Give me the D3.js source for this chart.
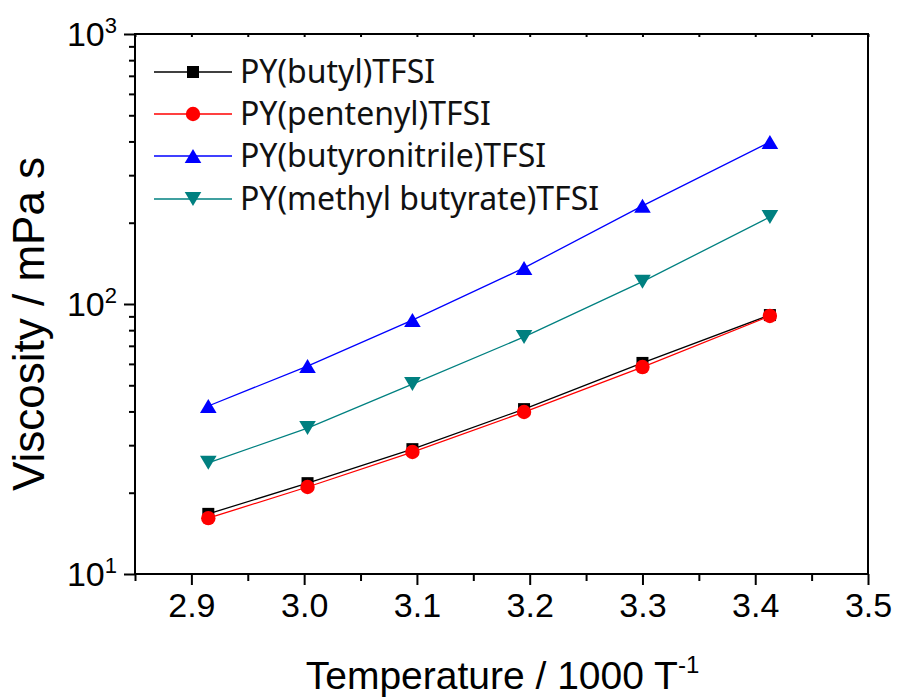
<!DOCTYPE html>
<html>
<head>
<meta charset="utf-8">
<script src="https://cdn.jsdelivr.net/npm/d3@7/dist/d3.min.js"></script>
<style>
  body { margin: 0; background: #fff; }
  svg { font-family: 'Liberation Sans', Arial, sans-serif; }
  .axis path, .axis line { stroke: #000; stroke-width: 2; }
  .legend text { font-family: 'Noto Sans', sans-serif; font-size: 32px; fill: #111; }
</style>
</head>
<body>
<svg id="chart" width="897" height="697"></svg>
<script>
// 1000/T values (K^-1 x 1000)
const invT = [2.915, 3.003, 3.096, 3.195, 3.300, 3.413];

// viscosity, mPa s
const butyl = [16.7, 21.7, 29.0, 40.8, 60.5, 91.0];
const pentenyl = [16.1, 21.0, 28.3, 39.8, 58.4, 90.3];
const butyronitrile = [41.9, 58.9, 87.2, 136, 231, 398];
const methylButyrate = [25.8, 34.7, 50.5, 75.5, 121, 210];

const seriesNames = ['PY(butyl)TFSI', 'PY(pentenyl)TFSI', 'PY(butyronitrile)TFSI', 'PY(methyl butyrate)TFSI'];
const seriesColors = ['#000000', '#ff0000', '#0000ff', '#008080'];
const seriesMarkers = ['square', 'circle', 'triangle', 'triangleDown'];

const xTicks = [2.9, 3.0, 3.1, 3.2, 3.3, 3.4, 3.5];
const xMinorTicks = [2.85, 2.95, 3.05, 3.15, 3.25, 3.35, 3.45];
const yTicks = [10, 100, 1000];
const yMinorTicks = [20, 30, 40, 50, 60, 70, 80, 90, 200, 300, 400, 500, 600, 700, 800, 900];

const series = [butyl, pentenyl, butyronitrile, methylButyrate].map((vals, i) => ({
  name: seriesNames[i],
  color: seriesColors[i],
  marker: seriesMarkers[i],
  points: vals.map((v, j) => ({ x: invT[j], y: v })),
}));

const svg = d3.select('#chart');
const pl = 135, pr = 868, pt = 34, pb = 574;

const x = d3.scaleLinear().domain([2.85, 3.5]).range([pl, pr]);
const y = d3.scaleLog().domain([10, 1000]).range([pb, pt]);

// marker shapes, centred on the bounding box
function markerPath(type) {
  if (type === 'square') return 'M-6,-6H6V6H-6Z';
  if (type === 'circle') return d3.symbol(d3.symbolCircle, Math.PI * 7.2 * 7.2)();
  if (type === 'triangle') return 'M0,-7L8.3,7L-8.3,7Z';
  return 'M0,7L8.3,-7L-8.3,-7Z';
}

// frame
svg.append('rect')
  .attr('x', pl).attr('y', pt)
  .attr('width', pr - pl).attr('height', pb - pt)
  .attr('fill', 'none').attr('stroke', '#000').attr('stroke-width', 2);

// bottom axis
const xAxis = svg.append('g').attr('class', 'axis')
  .attr('transform', `translate(0,${pb})`)
  .call(d3.axisBottom(x).tickValues(xTicks).tickSize(11).tickPadding(8).tickFormat(d3.format('.1f')));
xAxis.select('.domain').remove();
xAxis.selectAll('text').attr('font-size', 34).attr('fill', '#000');

svg.append('g').attr('class', 'axis')
  .attr('transform', `translate(0,${pb})`)
  .call(d3.axisBottom(x).tickValues(xMinorTicks).tickSize(7).tickFormat(''))
  .select('.domain').remove();

// small inward ticks on the top edge
svg.append('g').attr('class', 'axis')
  .attr('transform', `translate(0,${pt})`)
  .call(d3.axisBottom(x).tickValues(xTicks.concat(xMinorTicks)).tickSize(3).tickFormat(''))
  .select('.domain').remove();

// left axis
const yAxis = svg.append('g').attr('class', 'axis')
  .attr('transform', `translate(${pl},0)`)
  .call(d3.axisLeft(y).tickValues(yTicks).tickSize(11).tickFormat(''));
yAxis.select('.domain').remove();

svg.append('g').attr('class', 'axis')
  .attr('transform', `translate(${pl},0)`)
  .call(d3.axisLeft(y).tickValues(yMinorTicks).tickSize(6).tickFormat(''))
  .select('.domain').remove();

// y tick labels as 10^n
const yLabels = svg.append('g');
yTicks.forEach(t => {
  const lbl = yLabels.append('text')
    .attr('x', 117).attr('y', y(t) + 12)
    .attr('text-anchor', 'end').attr('font-size', 34).attr('fill', '#000');
  lbl.append('tspan').text('10');
  lbl.append('tspan').attr('dy', -13).attr('font-size', 22).text(Math.round(Math.log10(t)));
});

// axis titles
const xTitle = svg.append('text')
  .attr('x', (pl + pr) / 2 + 1).attr('y', 689)
  .attr('text-anchor', 'middle').attr('font-size', 39).attr('fill', '#000');
xTitle.append('tspan').text('Temperature / 1000 T');
xTitle.append('tspan').attr('dy', -16).attr('font-size', 24).text('-1');

svg.append('text')
  .attr('transform', `translate(44,${(pt + pb) / 2 + 20}) rotate(-90)`)
  .attr('text-anchor', 'middle').attr('font-size', 44).attr('fill', '#000')
  .text('Viscosity / mPa s');

// series lines and markers
const line = d3.line().x(d => x(d.x)).y(d => y(d.y));
const plot = svg.append('g');

series.forEach(s => {
  plot.append('path')
    .datum(s.points)
    .attr('d', line)
    .attr('fill', 'none')
    .attr('stroke', s.color)
    .attr('stroke-width', 1.3);
});

series.forEach(s => {
  plot.selectAll(null)
    .data(s.points)
    .enter()
    .append('path')
    .attr('transform', d => `translate(${x(d.x)},${y(d.y)})`)
    .attr('d', markerPath(s.marker))
    .attr('fill', s.color);
});

// legend
const legend = svg.append('g').attr('class', 'legend');
const legendRows = [72, 114, 156, 199];
series.forEach((s, i) => {
  const row = legend.append('g').attr('transform', `translate(0,${legendRows[i]})`);
  row.append('line')
    .attr('x1', 154).attr('x2', 232)
    .attr('stroke', s.color).attr('stroke-width', 1.3);
  row.append('path')
    .attr('transform', 'translate(193,0)')
    .attr('d', markerPath(s.marker))
    .attr('fill', s.color);
  row.append('text')
    .attr('x', 240).attr('y', 11)
    .text(s.name);
});
</script>
</body>
</html>
